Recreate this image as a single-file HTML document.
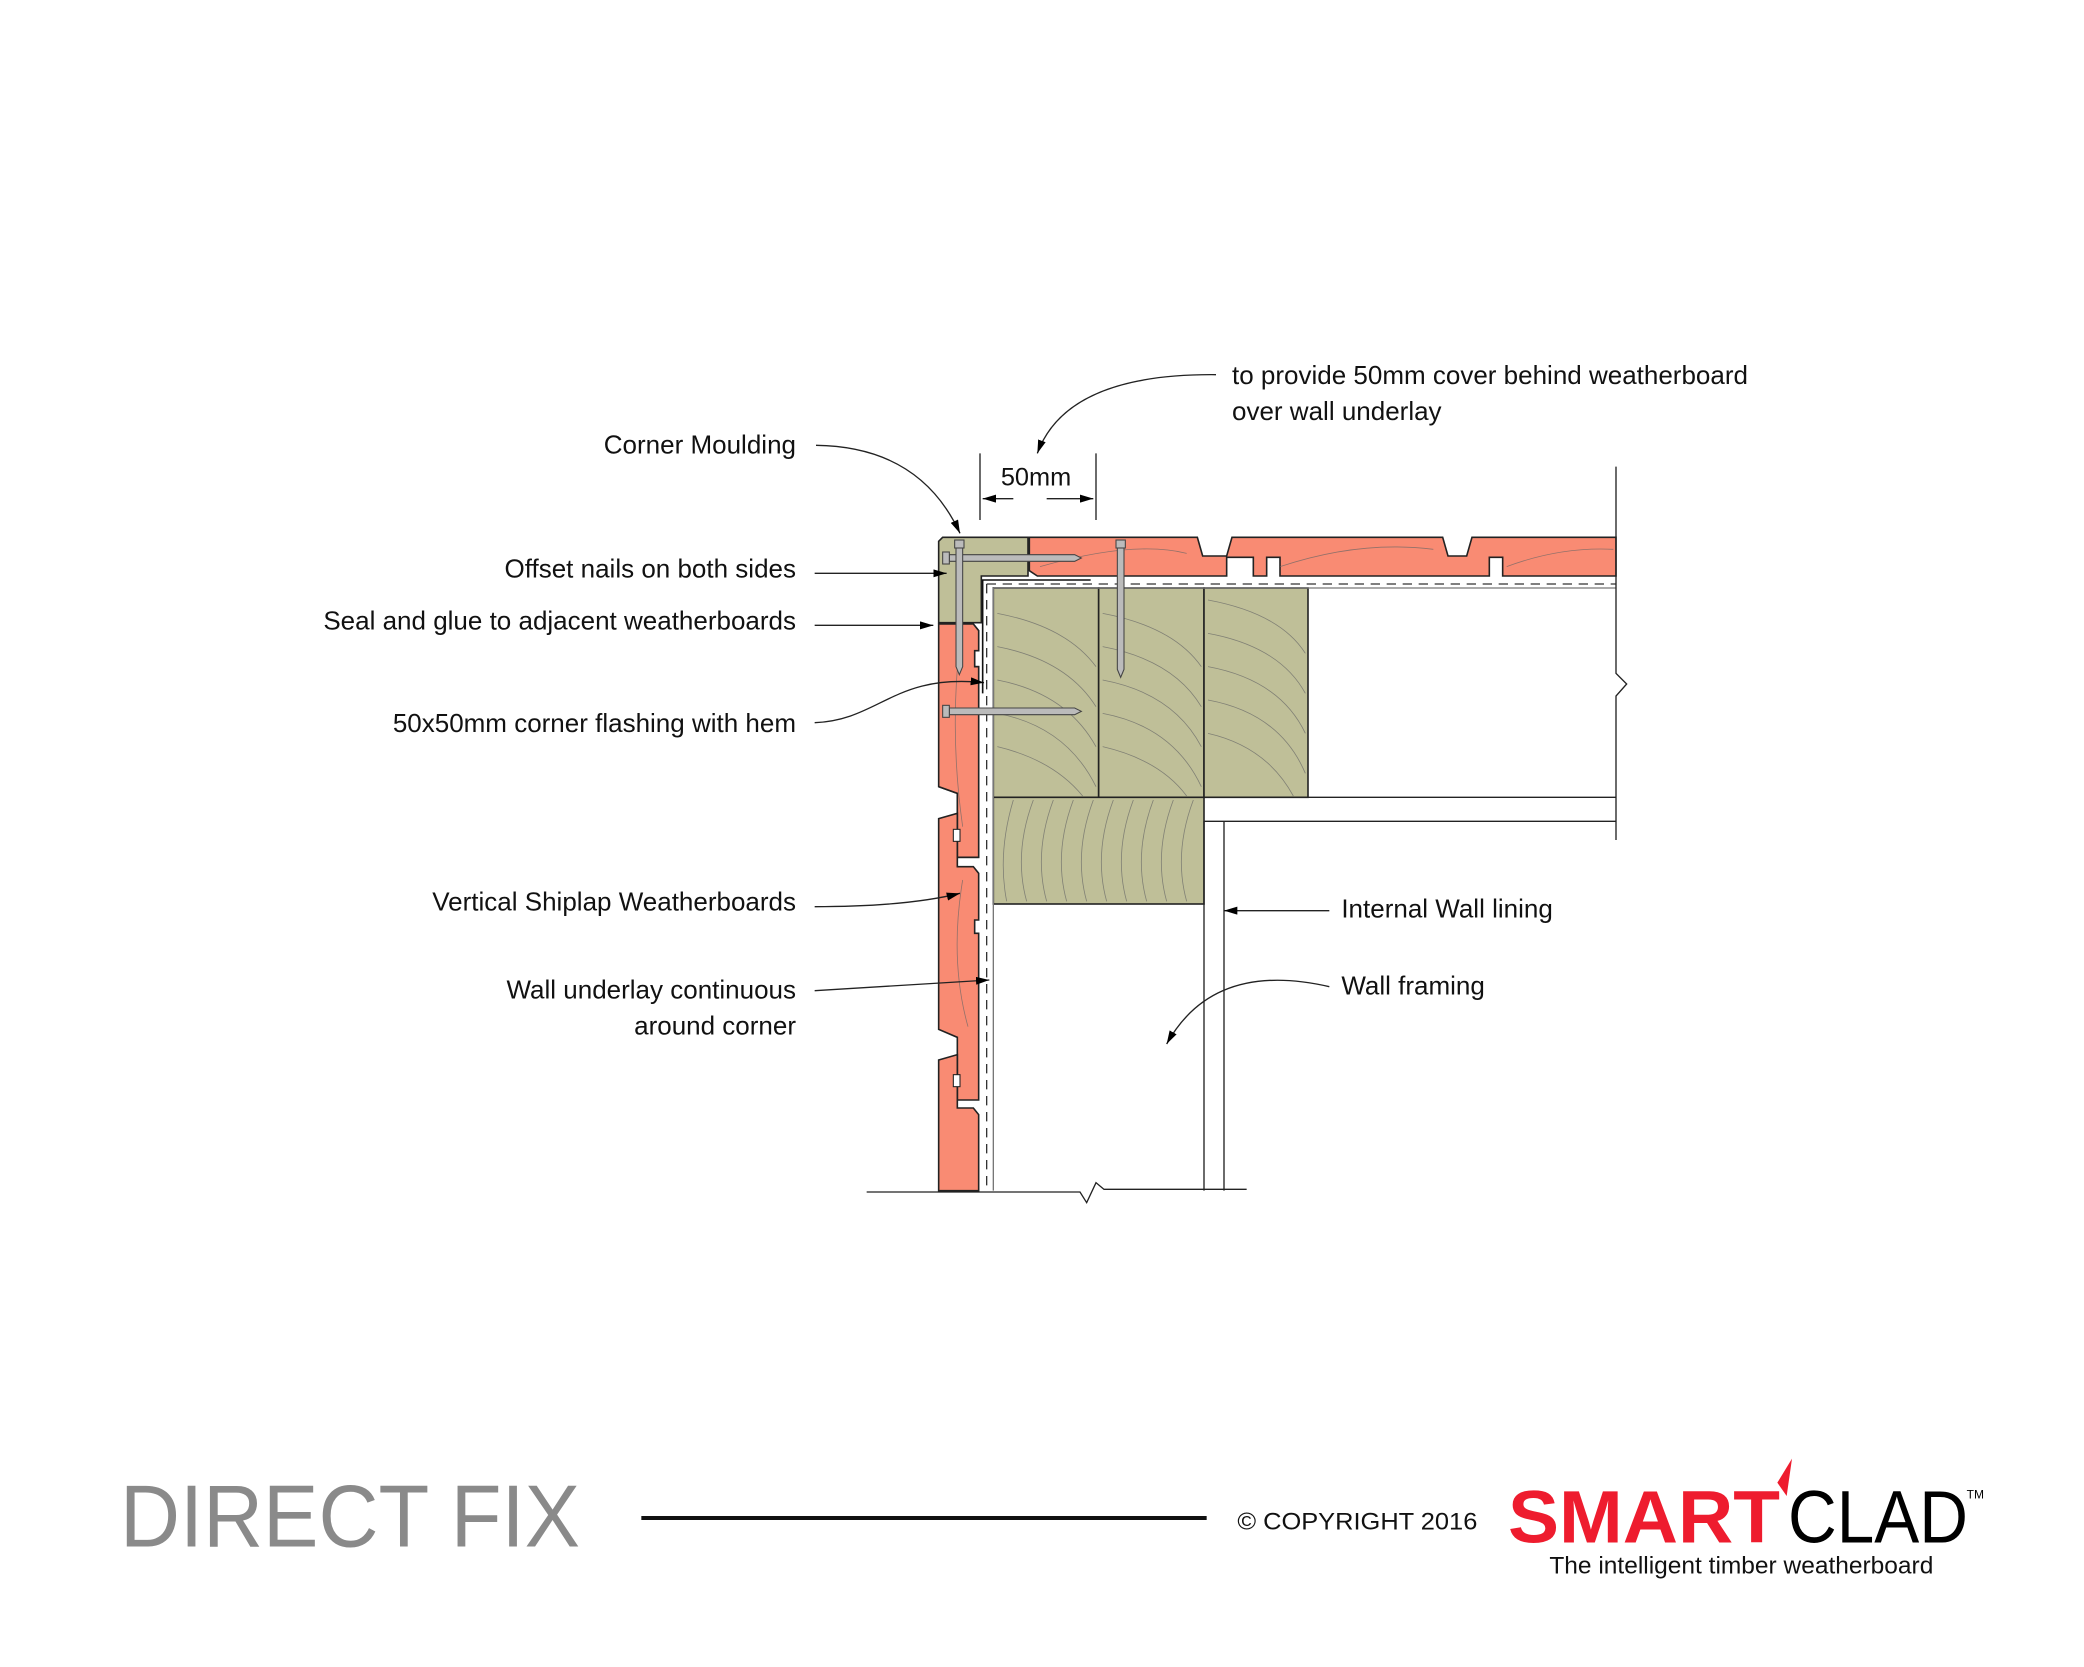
<!DOCTYPE html>
<html><head><meta charset="utf-8"><style>
html,body{margin:0;padding:0;background:#fff}
svg{display:block}
text{font-family:"Liberation Sans",sans-serif}
</style></head><body>
<svg width="2084" height="1667" viewBox="0 0 1563 1250.25" xmlns="http://www.w3.org/2000/svg">
<defs>
<marker id="ar" viewBox="0 0 10 6" refX="10" refY="3" markerWidth="10" markerHeight="6" orient="auto" markerUnits="userSpaceOnUse"><path d="M0,0 L10,3 L0,6 z" fill="#000"/></marker>
</defs>
<g stroke="#222" stroke-width="1.2">
<!-- top horizontal weatherboards -->
<path d="M772,403 H898 L902,417 H920 L924,403 H1082 L1086,417 H1100 L1104,403 H1212 V432 H1127 V418 H1117 V432 H960 V418 H950 V432 H940 V418 H920 V432 H778 L772,428 Z" fill="#F98B73"/>
<!-- vertical left boards -->
<path d="M704,468 H730 L734,473 V488 H731 V500 H734 V590 L731,594 H718 V643 H734 V590 M718,595 L704,590 Z" fill="#F98B73"/>
<path d="M704,468 H730 L734,473 V488 H731 V500 H734 V643 H718 V595 L704,590 Z" fill="#F98B73"/>
<path d="M704,614 L718,610 V650 H730 L734,655 V690 H731 V700 H734 V825 H718 V778 L704,772 Z" fill="#F98B73"/>
<path d="M704,795 L718,791 V831 H730 L734,836 V893 H704 Z" fill="#F98B73"/>
<!-- corner moulding -->
<path d="M707,403 H771 V432 H736 V467 H704 V406 Z" fill="#BFBF98"/>
<!-- studs -->
<rect x="745" y="441" width="79" height="157" fill="#BFBF98"/>
<rect x="824" y="441" width="79" height="157" fill="#BFBF98"/>
<rect x="903" y="441" width="78" height="157" fill="#BFBF98"/>
<rect x="745" y="598" width="158" height="80" fill="#BFBF98"/>
</g>
<g fill="#fff" stroke="#222" stroke-width="0.8">
<rect x="715" y="622" width="5" height="9"/><rect x="715" y="806" width="5" height="9"/>
</g>
<!-- wood grain -->
<g fill="none" stroke="#666" stroke-width="0.6" opacity="0.7">
<path d="M748,460 Q800,470 822,500 M748,485 Q800,495 822,530 M748,510 Q800,520 822,560 M748,535 Q800,545 822,590 M748,560 Q790,570 812,597"/>
<path d="M827,460 Q880,470 901,500 M827,485 Q880,495 901,530 M827,510 Q880,520 901,560 M827,535 Q880,545 901,590 M827,560 Q870,570 890,597"/>
<path d="M906,450 Q960,460 979,490 M906,475 Q960,485 979,520 M906,500 Q960,510 979,550 M906,525 Q960,535 979,580 M906,550 Q950,560 970,597"/>
<path d="M760,600 Q748,640 755,676 M775,600 Q760,640 770,676 M790,600 Q775,640 785,676 M805,600 Q790,640 800,676 M820,600 Q805,640 815,676 M835,600 Q820,640 830,676 M850,600 Q835,640 845,676 M865,600 Q850,640 860,676 M880,600 Q865,640 875,676 M895,600 Q880,640 890,676"/>
<path d="M780,425 Q850,405 890,415 M960,425 Q1020,405 1075,412 M1130,425 Q1170,410 1210,412 M720,480 Q712,550 722,620 M722,660 Q712,720 726,770"/>
</g>
<!-- underlay & flashing -->
<g fill="none">
<path d="M740,438 H1212" stroke="#333" stroke-width="1" stroke-dasharray="7,5"/>
<path d="M740,438 V893" stroke="#333" stroke-width="1" stroke-dasharray="7,5"/>
<path d="M745,441 H1212 M745,441 V893" stroke="#777" stroke-width="1"/>
<path d="M737,520 V435 H818" stroke="#111" stroke-width="1.2"/>
</g>
<!-- lining & boundaries -->
<g fill="none" stroke="#222" stroke-width="1">
<path d="M903,598 H1212 M903,616 H1212 M903,616 V893 M918,616 V893"/>
<path d="M1212,350 V505 L1220,513 L1212,522 V630"/>
<path d="M650,894 H810 L815,902 L822,887 L828,892 H935"/>
</g>
<!-- nails -->
<g fill="#bbb" stroke="#444" stroke-width="0.8">
<path d="M712,416 H806 L811,418.5 L806,421 H712 Z"/><rect x="707" y="414" width="5" height="9"/>
<path d="M717,410 V500 L719.5,506 L722,500 V410 Z"/><rect x="716" y="405" width="7" height="6"/>
<path d="M838,410 V502 L840.5,508 L843,502 V410 Z"/><rect x="837" y="405" width="7" height="6"/>
<path d="M712,531 H806 L811,533.5 L806,536 H712 Z"/><rect x="707" y="529" width="5" height="9"/>
</g>
<!-- dimension -->
<g stroke="#222" stroke-width="1" fill="none">
<path d="M735,340 V390 M822,340 V390"/>
<path d="M760,374 H737" marker-end="url(#ar)"/>
<path d="M785,374 H820" marker-end="url(#ar)"/>
</g>
<text x="777" y="364" font-size="19" text-anchor="middle" fill="#111">50mm</text>
<!-- leaders -->
<g stroke="#222" stroke-width="1" fill="none" marker-end="url(#ar)">
<path d="M912,281 Q800,280 778,340"/>
<path d="M612,334 Q690,335 720,400"/>
<path d="M611,430 H710"/>
<path d="M611,469 H700"/>
<path d="M611,542 C660,540 670,505 738,512"/>
<path d="M611,680 Q680,680 720,670"/>
<path d="M611,743 L742,735"/>
<path d="M997,683 H918"/>
<path d="M997,740 Q910,720 875,783"/>
</g>
<g font-size="19.5" fill="#111">
<g text-anchor="end">
<text x="597" y="340">Corner Moulding</text>
<text x="597" y="433">Offset nails on both sides</text>
<text x="597" y="472">Seal and glue to adjacent weatherboards</text>
<text x="597" y="549">50x50mm corner flashing with hem</text>
<text x="597" y="683">Vertical Shiplap Weatherboards</text>
<text x="597" y="749">Wall underlay continuous</text>
<text x="597" y="776">around corner</text>
</g>
<text x="924" y="288">to provide 50mm cover behind weatherboard</text>
<text x="924" y="315">over wall underlay</text>
<text x="1006" y="688">Internal Wall lining</text>
<text x="1006" y="746">Wall framing</text>
</g>
<!-- footer -->
<text x="90" y="1160" font-size="66" fill="#8a8a8a" textLength="345" lengthAdjust="spacingAndGlyphs">DIRECT FIX</text>
<rect x="481" y="1137" width="424" height="3" fill="#111"/>
<text x="928" y="1147" font-size="18" fill="#111" textLength="180" lengthAdjust="spacingAndGlyphs">© COPYRIGHT 2016</text>
<text x="1131" y="1157" font-size="56" font-weight="bold" fill="#EE1C2E" textLength="204" lengthAdjust="spacingAndGlyphs">SMART</text>
<path d="M1333,1112 L1344,1094 L1340,1122 Z" fill="#EE1C2E"/>
<text x="1341" y="1157" font-size="56" fill="#000" textLength="135" lengthAdjust="spacingAndGlyphs">CLAD</text>
<text x="1475" y="1124" font-size="9" fill="#000">TM</text>
<text x="1162" y="1180" font-size="18" fill="#111" textLength="288" lengthAdjust="spacingAndGlyphs">The intelligent timber weatherboard</text>
</svg>
</body></html>
